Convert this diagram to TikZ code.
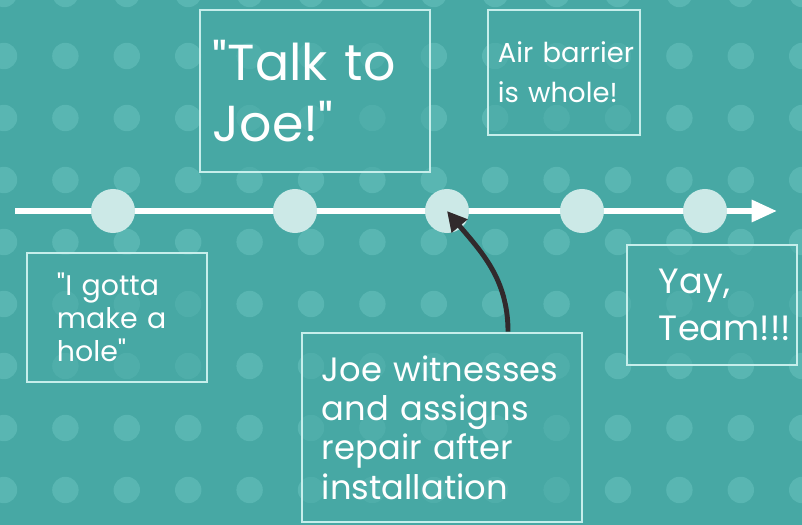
\documentclass[tikz,border=0pt]{standalone}
\usepackage{xcolor}
\usepackage{fontspec}
\setmainfont{Poppins}
\usepackage{tikz}
\usetikzlibrary{arrows.meta, positioning}

\definecolor{tealbg}{HTML}{47A8A4}
\definecolor{dotteal}{HTML}{59B6B2}
\definecolor{stopfill}{HTML}{CCE9E7}
\definecolor{boxline}{HTML}{C6EEEB}
\definecolor{pointer}{HTML}{312A2C}

\hyphenpenalty=10000
\newcommand{\qt}{\textquotedbl}

\tikzset{
  note/.style={draw=boxline, line width=2pt, fill=tealbg, fill opacity=0.5, text opacity=1,
    text=white, align=left, inner ysep=0pt},
  stop/.style={circle, fill=stopfill, minimum size=1.1cm, inner sep=0pt},
}

\begin{document}
\begin{tikzpicture}[x=0.025cm, y=-0.025cm]
\clip (0,0) rectangle (802,525);
\fill [tealbg] (0,0) rectangle (802,525);
% dotted backdrop
\foreach \i in {0,...,13}
  \foreach \j in {0,...,9}
    \fill [dotteal] (4+61.4*\i, -6+62*\j) circle [radius=0.33cm];

% timeline
\coordinate (start) at (15,211);
\coordinate (end) at (777,211);
\draw [white, line width=4pt, -{Triangle[length=18pt, width=15pt]}] (start) -- (end);
\foreach \x [count=\n] in {113,295,447,582,705}
  \node [stop] (s\n) at (\x,211) {};

% notes
\node [note, minimum width=5.75cm, minimum height=4.05cm, inner xsep=0.325cm, text width=5.1cm,
  font=\fontsize{36}{43.4}\selectfont] (talk) at (315,91) {\qt Talk~to\\Joe!\qt};
\node [note, minimum width=3.8cm, minimum height=3.125cm, inner xsep=0.25cm, text width=3.3cm,
  font=\fontsize{19.5}{28.5}\selectfont] (air) at (564,72.5) {Air~barrier\\is~whole!};
\node [note, minimum width=4.5cm, minimum height=3.225cm, inner xsep=0.75cm, text width=3cm,
  font=\fontsize{20.2}{23.5}\selectfont] (hole) at (117,317.5) {\qt I~gotta\\make~a\\hole\qt};
\node [note, minimum width=7cm, minimum height=4.725cm, inner xsep=0.5cm, text width=6cm,
  font=\fontsize{24}{28}\selectfont] (joe) at (442,427.5)
  {Joe~witnesses\\and~assigns\\repair~after\\installation};
\node [note, minimum width=4.25cm, minimum height=3cm, inner xsep=0.8cm, text width=2.65cm,
  font=\fontsize{25}{33.4}\selectfont] (yay) at (712,305) {Yay,\\Team!!!};

\draw [pointer, line width=3.5pt, -{Triangle[length=14pt, width=14pt]}]
  ([xshift=1.65cm]joe.north) to[out=90, in=-50] (s3.center);
\end{tikzpicture}
\end{document}
